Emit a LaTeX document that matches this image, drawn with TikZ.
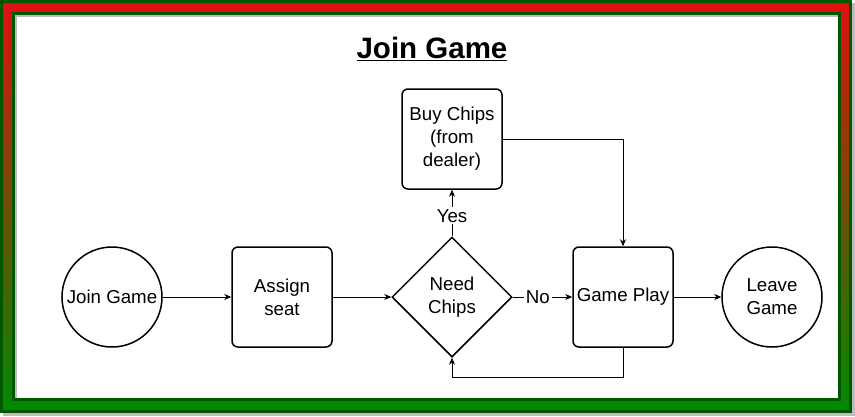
\documentclass[tikz,border=0pt]{standalone}
\usepackage{fontspec}
\setmainfont{Liberation Sans}
\usepackage{xcolor}
\usepackage{tikz}
\usetikzlibrary{shapes.geometric,arrows.meta}

\definecolor{frameGreen}{HTML}{005700}
\definecolor{topRed}{HTML}{E21010}
\definecolor{bottomGreen}{HTML}{008A00}
\definecolor{shadowGray}{HTML}{BDBDBD}

\tikzset{
  stepbox/.style={draw,line width=1.5pt,rounded corners=6pt,minimum width=100pt,minimum height=100pt,align=center,inner sep=2pt},
  endpoint/.style={draw,circle,line width=1.5pt,minimum size=100pt,align=center,inner sep=1pt},
  decision/.style={draw,diamond,aspect=1,line width=1.5pt,minimum width=120pt,minimum height=120pt,align=center,inner sep=0pt},
  flow/.style={line width=0.8pt,-{Stealth[length=7pt,width=6pt]}},
  answer/.style={fill=white,inner sep=2pt}
}

\begin{document}
\begin{tikzpicture}[x=1pt,y=-1pt,font=\fontsize{18.7}{23}\selectfont]
  \useasboundingbox (0,0) rectangle (855,416);
  % frame
  \fill[shadowGray] (3,3) rectangle (855,416);
  \path[draw=frameGreen,line width=3pt,top color=topRed,bottom color=bottomGreen] (1.5,1.5) rectangle (850.5,411.5);
  \fill[white] (13.5,13.5) rectangle (839.5,399.5);
  \fill[shadowGray] (15,15) rectangle (838,17);
  \fill[shadowGray] (15,15) rectangle (17,398);
  \draw[frameGreen,line width=3pt] (13.5,13.5) rectangle (839.5,399.5);

  \node (title) at (432,49) {\fontsize{29.5}{34}\selectfont\bfseries\underline{Join Game}};

  \node[endpoint] (join) at (112,297) {Join Game};
  \node[stepbox] (seat) at (282,297) {Assign\\seat};
  \node[decision] (need) at (452,297) {Need\\Chips};
  \node[stepbox] (buy) at (452,139) {Buy Chips\\(from\\dealer)};
  \node[stepbox] (play) at (623,297) {Game Play};
  \node[endpoint] (leave) at (772,297) {Leave\\Game};

  \draw[flow] (join) -- (seat);
  \draw[flow] (seat) -- (need);
  \draw[flow] (need) -- node[answer,pos=0.44] {Yes} (buy);
  \draw[flow] (need) -- node[answer,pos=0.42] {No} (play);
  \draw[flow] (buy.east) -| (play.north);
  \draw[flow] (play.south) -- ++(0,30) -| (need.south);
  \draw[flow] (play) -- (leave);
\end{tikzpicture}
\end{document}
